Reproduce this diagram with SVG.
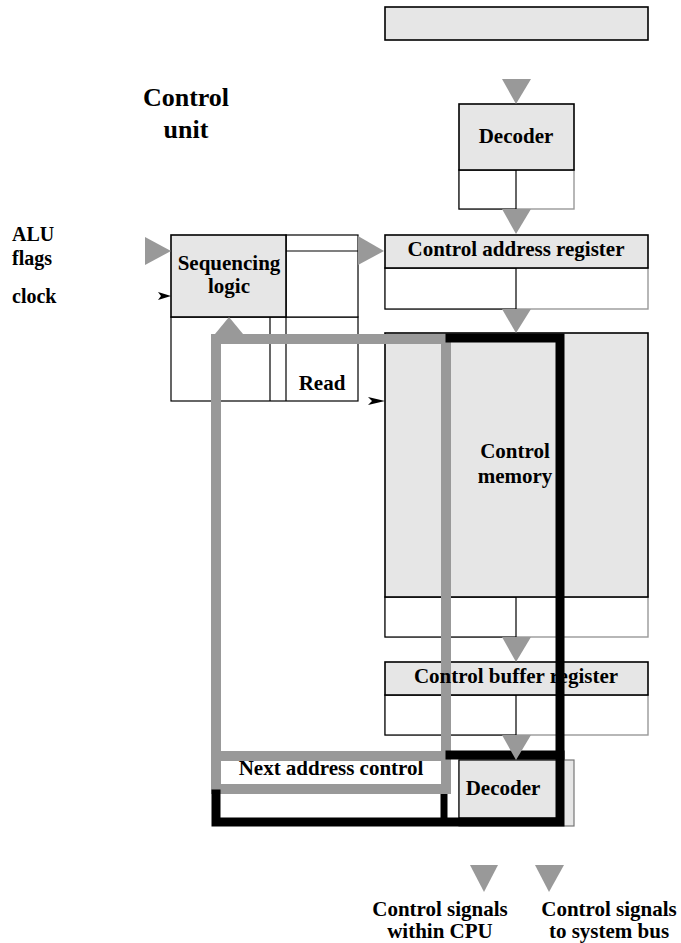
<svg xmlns="http://www.w3.org/2000/svg" width="681" height="943" viewBox="0 0 681 943">
<style>
.box{fill:#e6e6e6;stroke:#000;stroke-width:1.6}
.cellg{fill:#fff;stroke:#999;stroke-width:1.4}
.cell{fill:#fff;stroke:#000;stroke-width:1.2}
.ln{fill:none;stroke:#000;stroke-width:1.2}
.t{font-family:"Liberation Serif","Times New Roman",serif;font-weight:bold;font-size:21px;fill:#000;text-anchor:middle}
.tl{font-family:"Liberation Serif","Times New Roman",serif;font-weight:bold;font-size:20px;fill:#000}
.big{font-family:"Liberation Serif","Times New Roman",serif;font-weight:bold;font-size:26px;fill:#000;text-anchor:middle}
.arr{fill:#999}
.gray{fill:none;stroke:#999;stroke-width:10;stroke-linecap:square}
.blk{fill:none;stroke:#000;stroke-width:9;stroke-linecap:square}
</style>
<rect width="681" height="943" fill="#fff"/>

<g id="instruction-register">
<rect class="box" x="385" y="7" width="263" height="33"/>
</g>

<g id="title">
<text class="big" x="186" y="106">Control</text>
<text class="big" x="186" y="138">unit</text>
</g>

<g id="inputs">
<text class="tl" x="12" y="241">ALU</text>
<text class="tl" x="12" y="265">flags</text>
<text class="tl" x="12" y="303">clock</text>
</g>

<g id="decoder-top">
<rect class="cellg" x="459" y="170" width="115" height="39"/>
<rect class="cell" x="459" y="170" width="57" height="39"/>
<rect class="box" x="459" y="104" width="115" height="66" stroke-width="2"/>
<text class="t" x="516" y="143">Decoder</text>
</g>

<g id="sequencing-logic">
<rect class="cell" x="171" y="317" width="187" height="84"/>
<line class="ln" x1="270" y1="317" x2="270" y2="401"/>
<line class="ln" x1="286" y1="317" x2="286" y2="401"/>
<rect class="cell" x="286" y="235" width="72" height="82"/>
<line class="ln" x1="286" y1="251" x2="358" y2="251"/>
<rect class="box" x="171" y="235" width="115" height="82"/>
<text class="t" x="229" y="270">Sequencing</text>
<text class="t" x="229" y="293">logic</text>
<text class="t" x="322" y="390">Read</text>
</g>

<g id="control-address-register">
<rect class="cellg" x="385" y="268" width="263" height="41"/>
<rect class="cell" x="385" y="268" width="131" height="41"/>
<rect class="box" x="385" y="235" width="263" height="33" stroke-width="2"/>
<text class="t" x="516" y="256">Control address register</text>
</g>

<g id="control-memory">
<rect class="cellg" x="385" y="597" width="263" height="40"/>
<rect class="cell" x="385" y="597" width="131" height="40"/>
<rect class="box" x="385" y="333" width="263" height="264" stroke-width="2"/>
<text class="t" x="515" y="458">Control</text>
<text class="t" x="515" y="483">memory</text>
</g>

<g id="control-buffer-register">
<rect class="cellg" x="385" y="695" width="263" height="40"/>
<rect class="cell" x="385" y="695" width="131" height="40"/>
<rect class="box" x="385" y="662" width="263" height="33" stroke-width="2"/>
</g>

<g id="decoder-bottom">
<rect x="459" y="760" width="115" height="66" fill="#e6e6e6" stroke="#777" stroke-width="1.2"/>
<rect x="459" y="760" width="98" height="58" fill="#e6e6e6" stroke="#000" stroke-width="1.2"/>
<text class="t" x="503" y="795">Decoder</text>
</g>

<g id="next-address-control">
<text class="t" x="331" y="775">Next address control</text>
</g>

<g id="connectors">
<g id="feedback-gray">
<polyline class="gray" points="446,339 216,339 216,789"/>
<line class="gray" x1="446" y1="339" x2="446" y2="789"/>
<line class="gray" x1="216" y1="756" x2="446" y2="756"/>
<line class="gray" x1="216" y1="789" x2="446" y2="789"/>
<polygon class="arr" points="215,334 243,334 229,317"/>
</g>
<text class="t" x="516" y="683">Control buffer register</text>
<g id="outline-black">
<polyline class="blk" points="450,338 560,338 560,822 216,822 216,794"/>
<line class="blk" x1="450" y1="755" x2="560" y2="755"/>
<line x1="444" y1="794" x2="444" y2="822" stroke="#000" stroke-width="7"/>
</g>
<g id="arrows">
<polygon class="arr" points="502,79 531,79 516,104"/>
<polygon class="arr" points="502,209 531,209 516,234"/>
<polygon class="arr" points="502,309 531,309 516,333"/>
<polygon class="arr" points="502,637 531,637 516,662"/>
<polygon class="arr" points="502,735 531,735 516,760"/>
<polygon class="arr" points="145,237 145,265 171,251"/>
<polygon class="arr" points="358,236 358,265 384,251"/>
<polygon class="arr" points="470,865 498,865 484,892"/>
<polygon class="arr" points="535,865 564,865 549,892"/>
<path d="M158,292 L171,296 L158,300 L161,296 Z" fill="#000"/>
<path d="M368,397 L385,401 L368,405 L372,401 Z" fill="#000"/>
</g>
</g>

<g id="outputs">
<text class="t" x="440" y="916">Control signals</text>
<text class="t" x="440" y="938">within CPU</text>
<text class="t" x="609" y="916">Control signals</text>
<text class="t" x="609" y="938">to system bus</text>
</g>
</svg>
